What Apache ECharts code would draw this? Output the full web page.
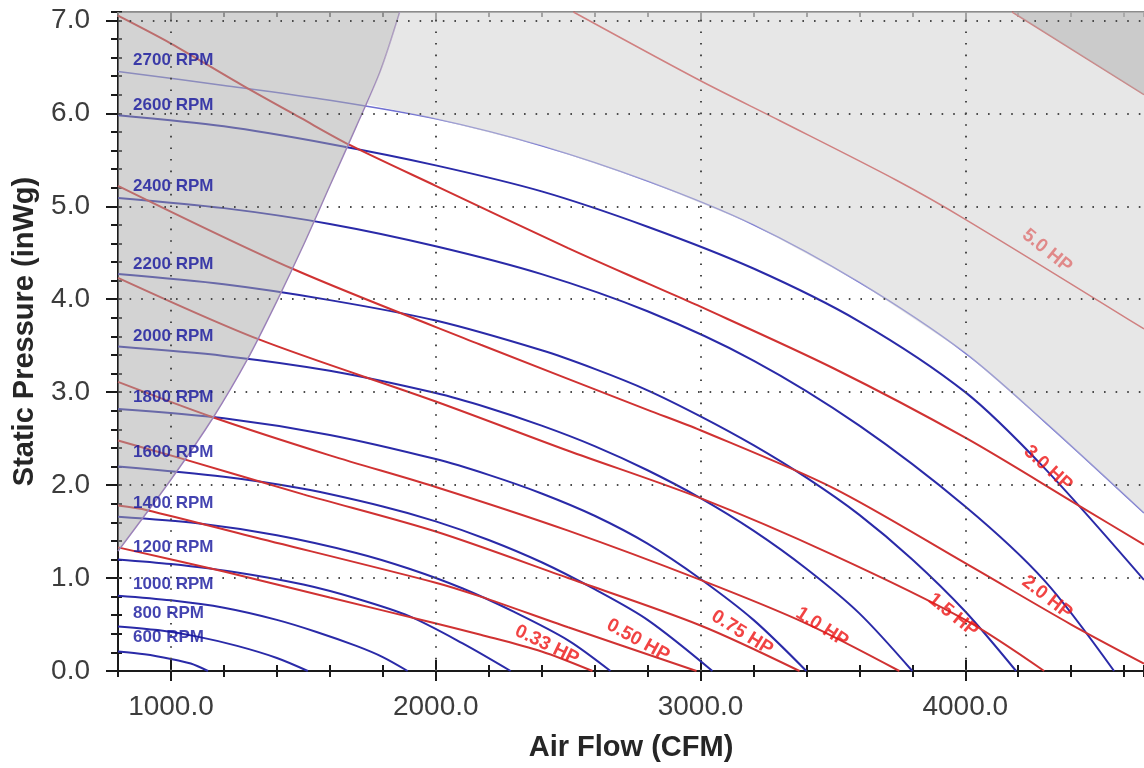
<!DOCTYPE html>
<html>
<head>
<meta charset="utf-8">
<title>Fan performance</title>
<script src="https://cdn.jsdelivr.net/npm/echarts@6.0.0/dist/echarts.min.js"></script>
<style>
  html, body { margin: 0; padding: 0; background: #fff; }
  #fan-chart { width: 1144px; height: 768px; }
</style>
</head>
<body>
<div id="fan-chart"></div>
<script>
// axis ranges and tick values
var cfmMin = 800, cfmMax = 4675;
var pMax = 7.09;
var majorCfm = [1000, 2000, 3000, 4000];
var majorP = [0, 1, 2, 3, 4, 5, 6, 7];

// fan curves, [cfm, inWg]
var rpm600  = [[800, 0.21], [900, 0.18], [1000, 0.13], [1075, 0.08], [1140, 0]];
var rpm800  = [[800, 0.48], [950, 0.44], [1100, 0.37], [1250, 0.27], [1400, 0.14], [1517, 0]];
var rpm1000 = [[800, 0.81], [1000, 0.76], [1200, 0.68], [1400, 0.55], [1550, 0.42], [1700, 0.27], [1800, 0.15], [1894, 0]];
var rpm1200 = [[800, 1.20], [1000, 1.15], [1250, 1.06], [1500, 0.93], [1700, 0.78], [1900, 0.59], [2100, 0.30], [2283, 0]];
var rpm1400 = [[800, 1.66], [1100, 1.59], [1400, 1.46], [1700, 1.27], [1900, 1.10], [2100, 0.89], [2300, 0.63], [2500, 0.33], [2660, 0]];
var rpm1600 = [[800, 2.20], [1200, 2.09], [1500, 1.96], [1800, 1.77], [2000, 1.61], [2200, 1.41], [2400, 1.17], [2600, 0.88], [2800, 0.55], [3045, 0]];
var rpm1800 = [[800, 2.82], [1200, 2.72], [1600, 2.54], [2000, 2.28], [2200, 2.11], [2400, 1.91], [2600, 1.67], [2800, 1.37], [3000, 0.99], [3200, 0.55], [3400, 0]];
var rpm2000 = [[800, 3.49], [1200, 3.39], [1600, 3.23], [2000, 2.99], [2200, 2.83], [2400, 2.64], [2600, 2.42], [2800, 2.16], [3000, 1.86], [3200, 1.51], [3400, 1.10], [3600, 0.62], [3800, 0]];
var rpm2200 = [[800, 4.27], [1200, 4.16], [1600, 3.99], [2000, 3.77], [2400, 3.45], [2600, 3.25], [2800, 3.02], [3000, 2.74], [3200, 2.43], [3400, 2.08], [3600, 1.68], [3800, 1.20], [4000, 0.64], [4192, 0]];
var rpm2400 = [[800, 5.09], [1200, 4.98], [1600, 4.81], [2000, 4.57], [2400, 4.27], [2800, 3.87], [3200, 3.34], [3600, 2.64], [4000, 1.77], [4300, 0.97], [4562, 0]];
var rpm2600 = [[800, 5.98], [1200, 5.86], [1600, 5.67], [2000, 5.44], [2400, 5.16], [2800, 4.78], [3200, 4.33], [3600, 3.76], [4000, 3.00], [4300, 2.18], [4675, 0.98]];
var rpm2700 = [[800, 6.45], [1200, 6.30], [1600, 6.14], [2000, 5.94], [2400, 5.65], [2800, 5.27], [3200, 4.80], [3600, 4.18], [4000, 3.42], [4300, 2.68], [4675, 1.70]];

// horsepower lines, [cfm, inWg]
var hp033 = [[800, 1.33], [1200, 1.07], [1600, 0.79], [1990, 0.52], [2170, 0.39], [2400, 0.21], [2592, 0]];
var hp050 = [[800, 1.78], [910, 1.73], [1300, 1.45], [2000, 0.95], [2170, 0.80], [2500, 0.47], [2985, 0]];
var hp075 = [[800, 2.48], [1035, 2.29], [1500, 1.90], [2000, 1.50], [2500, 1.00], [3000, 0.49], [3374, 0]];
var hp100 = [[800, 3.11], [1158, 2.73], [1600, 2.32], [2000, 1.98], [2500, 1.51], [3000, 0.98], [3400, 0.51], [3751, 0]];
var hp150 = [[800, 4.23], [1330, 3.57], [2000, 2.90], [2500, 2.37], [3000, 1.86], [3500, 1.25], [4000, 0.55], [4298, 0]];
var hp200 = [[800, 5.22], [1457, 4.33], [2170, 3.51], [2800, 2.81], [3000, 2.59], [3500, 1.97], [4000, 1.16], [4400, 0.50], [4675, 0.08]];
var hp300 = [[800, 7.05], [1000, 6.75], [1270, 6.30], [1490, 5.95], [1675, 5.66], [2000, 5.22], [2500, 4.55], [2800, 4.17], [3000, 3.92], [3500, 3.26], [4000, 2.51], [4440, 1.76], [4675, 1.36]];
var hp500 = [[2520, 7.09], [3000, 6.35], [3300, 5.92], [3740, 5.28], [4000, 4.86], [4675, 3.68]];
var hpTop = [[4177, 7.09], [4675, 6.20]];

// surge (stall) line
var surge = [[800, 1.29], [1000, 2.06], [1160, 2.73], [1290, 3.36], [1400, 3.98], [1500, 4.58], [1600, 5.22], [1700, 5.86], [1790, 6.45], [1864, 7.09]];

// curve labels
var rpmNames = ['2700 RPM', '2600 RPM', '2400 RPM', '2200 RPM', '2000 RPM', '1800 RPM', '1600 RPM', '1400 RPM', '1200 RPM', '1000 RPM', '800 RPM', '600 RPM'];
var rpmLabelAt = [[857, 6.57], [857, 6.09], [857, 5.21], [857, 4.38], [857, 3.60], [857, 2.94], [857, 2.35], [857, 1.80], [857, 1.33], [857, 0.93], [857, 0.62], [857, 0.36]];
var hpNames = ['0.33 HP', '0.50 HP', '0.75 HP', '1.0 HP', '1.5 HP', '2.0 HP', '3.0 HP', '5.0 HP'];
var hpLabelAt = [[2420, 0.28], [2764, 0.33], [3157, 0.41], [3459, 0.47], [3954, 0.60], [4309, 0.79], [4313, 2.18], [4309, 4.52]];
var hpLabelTilt = [-26, -29, -32, -33, -39, -38, -42, -39];

var font = 'Liberation Sans, Arial, Helvetica, sans-serif';
var blue = '#2a2aa8', red = '#d03232';
var black = { color: '#1a1a1a', width: 2 };

function curve(data, color, width) {
    return {
        type: 'line', data: data, smooth: 0.3, showSymbol: false, silent: true, z: 2,
        lineStyle: { color: color, width: width || 2 }
    };
}

function shade(points, fill) {
    return {
        type: 'custom', z: 4, silent: true,
        data: [points[0]],
        renderItem: function (params, api) {
            return {
                type: 'polygon',
                shape: { points: points.map(function (p) { return api.coord(p); }) },
                style: { fill: fill }
            };
        }
    };
}

// shaded zones built from the curves that bound them
var leftZone = surge.concat([[cfmMin, pMax]]);
var upperZone = [[1740, 6.1]].concat(rpm2700.filter(function (p) { return p[0] > 1740; }))
    .concat([[cfmMax, pMax]])
    .concat(surge.filter(function (p) { return p[0] > 1740; }).reverse());
var cornerZone = hpTop.concat([[cfmMax, pMax]]);

var gridMarks = majorCfm.map(function (v) { return { xAxis: v }; })
    .concat([1, 2, 3, 4, 5, 6, 7].map(function (v) { return { yAxis: v }; }));

function minorAxis(extra) {
    var a = {
        type: 'value', min: cfmMin, max: cfmMax, interval: 200, position: 'bottom',
        axisLine: { show: false, onZero: false },
        axisTick: { show: true, length: 6, lineStyle: black },
        axisLabel: { show: false }, splitLine: { show: false }
    };
    for (var k in extra) a[k] = extra[k];
    return a;
}

var myChart = echarts.init(document.getElementById('fan-chart'));
var option = {
    animation: false,
    backgroundColor: '#fff',
    grid: { left: 118, right: 0, top: 12, bottom: 97 },
    xAxis: [
        {
            type: 'value', min: cfmMin, max: cfmMax, position: 'bottom',
            axisLine: { show: true, onZero: false, lineStyle: black },
            axisTick: { show: true, customValues: majorCfm, length: 10, lineStyle: black },
            axisLabel: {
                customValues: majorCfm, formatter: function (v) { return v.toFixed(1); },
                fontSize: 28, color: '#3c3c3c', margin: 22, fontFamily: font
            },
            splitLine: { show: false },
            name: 'Air Flow (CFM)', nameLocation: 'middle', nameGap: 62,
            nameTextStyle: { fontSize: 29, fontWeight: 'bold', color: '#262626', fontFamily: font }
        },
        minorAxis({}),
        minorAxis({ axisTick: { show: true, inside: true, length: 6, lineStyle: black } }),
        minorAxis({ axisTick: { show: true, inside: true, customValues: majorCfm, length: 11, lineStyle: black } }),
        minorAxis({
            position: 'top',
            axisLine: { show: true, onZero: false, lineStyle: { color: '#8c8c8c', width: 2 } },
            axisTick: { show: true, inside: true, length: 5, lineStyle: { color: '#777', width: 2 } }
        }),
        minorAxis({
            position: 'top',
            axisTick: { show: true, inside: true, customValues: majorCfm, length: 9, lineStyle: { color: '#777', width: 2 } }
        })
    ],
    yAxis: [
        {
            type: 'value', min: 0, max: pMax, position: 'left',
            axisLine: { show: true, onZero: false, lineStyle: black },
            axisTick: { show: true, customValues: majorP, length: 12, lineStyle: black },
            axisLabel: {
                customValues: majorP, formatter: function (v) { return v.toFixed(1); },
                fontSize: 28, color: '#3c3c3c', margin: 28, fontFamily: font
            },
            splitLine: { show: false },
            name: 'Static Pressure (inWg)', nameLocation: 'middle', nameGap: 79,
            nameTextStyle: { fontSize: 29, fontWeight: 'bold', color: '#262626', fontFamily: font, padding: [0, 0, 0, 20] }
        },
        {
            type: 'value', min: 0, max: pMax, interval: 0.2, position: 'left',
            axisLine: { show: false, onZero: false },
            axisTick: { show: true, length: 7, lineStyle: black },
            axisLabel: { show: false }, splitLine: { show: false }
        },
        {
            type: 'value', min: 0, max: pMax, interval: 0.2, position: 'left',
            axisLine: { show: false, onZero: false },
            axisTick: { show: true, inside: true, length: 4, lineStyle: black },
            axisLabel: { show: false }, splitLine: { show: false }
        }
    ],
    series: [
        {
            type: 'line', data: [], z: 1, silent: true,
            markLine: {
                silent: true, symbol: ['none', 'none'], label: { show: false },
                lineStyle: { color: '#4a4a4a', width: 2, type: [1.6, 10] },
                data: gridMarks
            }
        },
        curve(rpm600, blue), curve(rpm800, blue), curve(rpm1000, blue), curve(rpm1200, blue),
        curve(rpm1400, blue), curve(rpm1600, blue), curve(rpm1800, blue), curve(rpm2000, blue),
        curve(rpm2200, blue), curve(rpm2400, blue), curve(rpm2600, blue), curve(rpm2700, '#7070d2', 1.5),
        curve(hp033, red), curve(hp050, red), curve(hp075, red), curve(hp100, red),
        curve(hp150, red), curve(hp200, red), curve(hp300, red), curve(hp500, red, 1.5), curve(hpTop, red, 1.5),
        curve(surge, '#9a7cbc', 1.5),
        {
            type: 'scatter', symbolSize: 0, silent: true, z: 3,
            data: hpNames.map(function (n, i) {
                return { name: n, value: hpLabelAt[i], label: { rotate: hpLabelTilt[i] } };
            }),
            label: {
                show: true, position: 'inside', formatter: '{b}',
                color: '#ee1414', fontSize: 19, fontWeight: 'bold', fontFamily: font
            }
        },
        shade(leftZone, 'rgba(168,168,168,0.5)'),
        shade(upperZone, 'rgba(208,208,208,0.5)'),
        shade(cornerZone, 'rgba(176,176,176,0.5)'),
        {
            type: 'scatter', symbolSize: 0, silent: true, z: 5,
            data: rpmNames.map(function (n, i) { return { name: n, value: rpmLabelAt[i] }; }),
            label: {
                show: true, position: 'right', distance: 0, formatter: '{b}',
                color: '#14149c', fontSize: 17, fontWeight: 'bold', fontFamily: font
            }
        }
    ]
};
myChart.setOption(option);
</script>
</body>
</html>
